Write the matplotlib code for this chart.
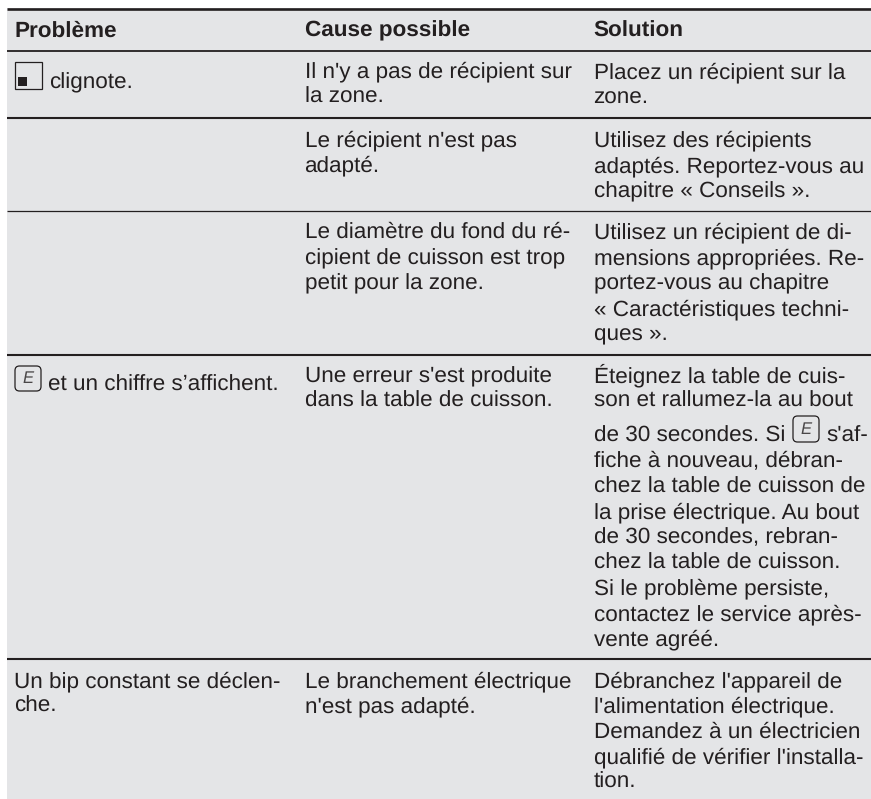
import matplotlib
matplotlib.use("Agg")
import matplotlib.pyplot as plt
from matplotlib.patches import Rectangle, FancyBboxPatch

plt.rcParams["text.hinting"] = "no_hinting"
plt.rcParams["text.hinting_factor"] = 8

W, H = 871, 799
BG = "#e4e5e7"
INK = "#231f20"
FS = 16.2

headers = ["Problème", "Cause possible", "Solution"]
col_x = [14, 304.5, 593.5]
rules = [8.5, 51, 118, 211, 355, 659]
rule_w = [1.9, 1.3, 1.5, 0.9, 1.5, 1.5]

col1_rows = [
    (49, 88, "clignote."),
    (48, 391, "et un chiffre s’affichent."),
    (14, 687, "Un bip constant se déclen-"),
    (14, 712, "che."),
]
col2_rows = [
    (77, "Il n'y a pas de récipient sur"), (103, "la zone."),
    (146, "Le récipient n'est pas"), (171, "adapté."),
    (238, "Le diamètre du fond du ré-"), (264, "cipient de cuisson est trop"), (289, "petit pour la zone."),
    (382, "Une erreur s'est produite"), (407, "dans la table de cuisson."),
    (687, "Le branchement électrique"), (712, "n'est pas adapté."),
]
col3_rows = [
    (78, "Placez un récipient sur la"), (104, "zone."),
    (146, "Utilisez des récipients"), (172, "adaptés. Reportez-vous au"), (197, "chapitre « Conseils »."),
    (238, "Utilisez un récipient de di-"), (264, "mensions appropriées. Re-"),
    (289, "portez-vous au chapitre"), (315, "« Caractéristiques techni-"), (340, "ques »."),
    (382, "Éteignez la table de cuis-"), (407, "son et rallumez-la au bout"),
    (442, "de 30 secondes. Si"), (467, "fiche à nouveau, débran-"),
    (493, "chez la table de cuisson de"), (518, "la prise électrique. Au bout"),
    (543, "de 30 secondes, rebran-"), (569, "chez la table de cuisson."),
    (594, "Si le problème persiste,"), (620, "contactez le service après-"), (645, "vente agréé."),
    (687, "Débranchez l'appareil de"), (712, "l'alimentation électrique."),
    (738, "Demandez à un électricien"), (763, "qualifié de vérifier l'installa-"), (788, "tion."),
]

fig = plt.figure(figsize=(W / 100, H / 100), dpi=100)
ax = fig.add_axes([0, 0, 1, 1])
ax.set_xlim(0, W)
ax.set_ylim(H, 0)
ax.axis("off")
ax.add_patch(Rectangle((7, 8), W - 7, H - 8, fc=BG, ec="none"))
for y, lw in zip(rules, rule_w):
    ax.plot([7, W], [y, y], color=INK, lw=lw, solid_capstyle="butt")

font = dict(family="Liberation Sans", color=INK, va="baseline", ha="left", fontsize=FS)
for x, t in zip(col_x, headers):
    ax.text(x, 36.4, t, fontweight="bold", **font)
for x, y, t in col1_rows:
    ax.text(x, y, t, **font)
for y, t in col2_rows:
    ax.text(col_x[1], y, t, **font)
for y, t in col3_rows:
    ax.text(col_x[2], y, t, **font)
ax.text(826, 442, "s'af-", **font)


def e_icon(x0, y0, w, h):
    ax.add_patch(FancyBboxPatch((x0, y0), w, h, boxstyle="round,pad=0,rounding_size=4.5",
                                fc="none", ec=INK, lw=0.9))
    ax.text(x0 + w / 2, y0 + h / 2 + 0.5, "E", family="Liberation Sans", style="italic",
            fontsize=12, color="#4a4748", ha="center", va="center")


ax.add_patch(Rectangle((15, 61.5), 27, 27, fc="none", ec=INK, lw=0.9))
ax.add_patch(Rectangle((18, 77), 9, 8.5, fc=INK, ec="none"))
e_icon(15, 366, 26, 25)
e_icon(793, 416, 26, 26)

fig.savefig("out.png", dpi=100, facecolor="white")
